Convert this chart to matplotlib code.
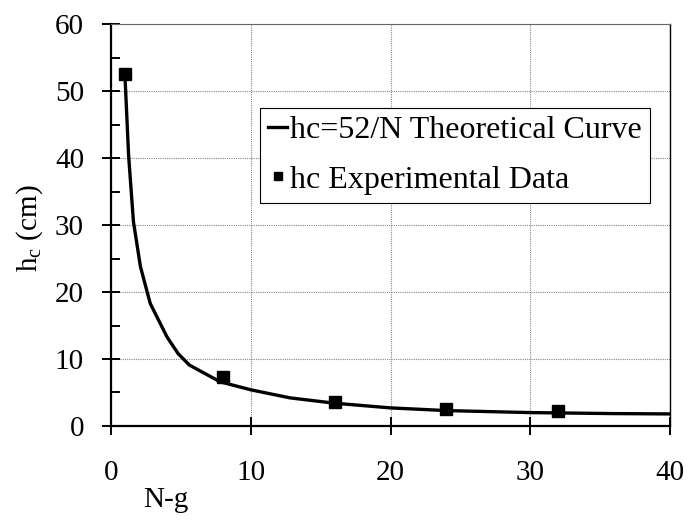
import matplotlib
matplotlib.use("Agg")
import matplotlib.pyplot as plt
from matplotlib.ticker import MultipleLocator

plt.rcParams['font.family'] = ['Liberation Serif', 'DejaVu Serif']
plt.rcParams['mathtext.fontset'] = 'custom'
plt.rcParams['mathtext.rm'] = 'Liberation Serif'

# Theoretical curve
curve_n = [1, 1.25, 1.6, 2.1, 2.8, 4, 4.8, 5.6, 7.8, 10, 12.8, 16, 20, 24, 30, 36, 40]
curve_h = [52, 40.5, 30.5, 23.8, 18.3, 13.3, 10.8, 9.1, 6.6, 5.4, 4.2, 3.4, 2.7, 2.3, 2.0, 1.85, 1.8]

# Experimental data
exp_n = [1, 8, 16, 24, 32]
exp_h = [52.6, 7.3, 3.6, 2.5, 2.2]

x_ticks = [0, 10, 20, 30, 40]
y_ticks = [0, 10, 20, 30, 40, 50, 60]

fig = plt.figure(figsize=(6.9, 5.25), dpi=100)
ax = fig.add_axes([0.161, 0.1886, 0.81, 0.7654])

ax.plot(curve_n, curve_h, color='black', lw=2.4, label='hc=52/N Theoretical Curve', zorder=3,
        solid_joinstyle='round')
ax.plot(exp_n, exp_h, 's', color='black', ms=8, label='hc Experimental Data', zorder=4)

ax.set_xlim(0, 40)
ax.set_ylim(0, 60)
ax.set_xticks(x_ticks)
ax.set_yticks(y_ticks)
ax.yaxis.set_minor_locator(MultipleLocator(5))
ax.grid(True, which='major', linestyle=(0, (1, 1)), color='#888888', lw=0.8)
ax.tick_params(axis='both', which='major', direction='inout', length=13, width=1.4,
               labelsize=21)
ax.tick_params(axis='y', which='major', pad=13)
ax.tick_params(axis='x', which='major', pad=18)
ax.tick_params(axis='y', which='minor', direction='in', length=6.5, width=1.4)
for s in ['left', 'bottom']:
    ax.spines[s].set_linewidth(1.6)
ax.spines['right'].set_linewidth(1.0)
ax.spines['top'].set_linewidth(0.8)
ax.spines['top'].set_color('#666666')

leg = ax.legend(loc='upper left', bbox_to_anchor=(260 / 690, 1 - 108 / 525),
                bbox_transform=fig.transFigure, borderaxespad=0, fontsize=23,
                frameon=True, fancybox=False, edgecolor='black', framealpha=1,
                handlelength=0.6, handletextpad=0.1, borderpad=0.25,
                labelspacing=0.62, markerscale=0.75)
leg.get_frame().set_linewidth(0.8)

fig.text(0.043, 0.566, r'h$_\mathrm{c}$ (cm)', rotation=90, fontsize=21, ha='center', va='center')
fig.text(0.24, 0.048, 'N-g', fontsize=21, ha='center', va='center')

fig.savefig('out.png', dpi=100)
